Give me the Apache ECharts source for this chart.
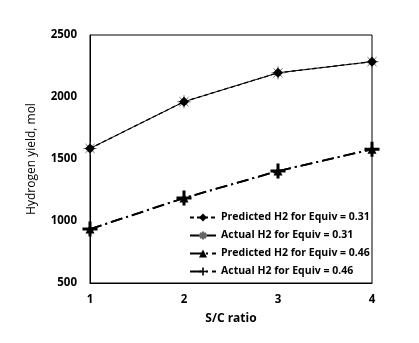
<!DOCTYPE html>
<html>
<head>
<meta charset="utf-8">
<script src="https://cdn.jsdelivr.net/npm/echarts@6/dist/echarts.min.js"></script>
<style>
html, body { margin: 0; padding: 0; background: #fff; }
#chart1 { width: 419px; height: 343px; }
</style>
</head>
<body>
<div id="chart1"></div>
<script>
// S/C ratio
var scRatio = [1, 2, 3, 4];
// hydrogen yield, mol
var predH2_031 = [1585, 1962, 2195, 2285];
var actH2_031 = [1585, 1962, 2195, 2285];
var predH2_046 = [935, 1185, 1403, 1578];
var actH2_046 = [935, 1185, 1403, 1578];
var seriesNames = [
	'Predicted H2 for Equiv = 0.31',
	'Actual H2 for Equiv = 0.31',
	'Predicted H2 for Equiv = 0.46',
	'Actual H2 for Equiv = 0.46'
];

function pairs(ys) {
	return scRatio.map(function (x, i) { return [x, ys[i]]; });
}

var asterisk = 'path://M0,-10L0,10M-10,0L10,0M-7,-7L7,7M-7,7L7,-7';
var plusMark = 'path://M-2,-10H2V-2H10V2H2V10H-2V2H-10V-2H-2Z';
var font = 'Open Sans';

var myChart = echarts.init(document.getElementById('chart1'));

var option = {
	animation : false,
	textStyle : { fontFamily : font },
	grid : {
		left : 90,
		right : 47,
		top : 35,
		bottom : 60
	},
	legend : {
		orient : 'vertical',
		left : 184,
		top : 207,
		itemWidth : 26,
		itemHeight : 10,
		itemGap : 7,
		textStyle : {
			fontFamily : font,
			fontSize : 10.5,
			fontWeight : 'bold',
			color : '#000'
		},
		data : seriesNames
	},
	xAxis : {
		type : 'value',
		min : 1,
		max : 4,
		interval : 1,
		name : 'S/C ratio',
		nameLocation : 'middle',
		nameGap : 30,
		nameTextStyle : { fontFamily : font, fontSize : 12, fontWeight : 'bold', color : '#000' },
		axisLine : { show : true, lineStyle : { color : '#000', width : 1 } },
		axisTick : { show : false },
		splitLine : { show : false },
		axisLabel : { fontFamily : font, fontSize : 11.5, fontWeight : 'bold', color : '#000', margin : 11 }
	},
	yAxis : [{
		type : 'value',
		min : 500,
		max : 2500,
		interval : 500,
		name : 'Hydrogen yield, mol',
		nameLocation : 'middle',
		nameGap : 52,
		nameTextStyle : { fontFamily : font, fontSize : 12, color : '#000' },
		axisLine : { show : true, lineStyle : { color : '#000', width : 1 } },
		axisTick : { show : false },
		splitLine : { show : false },
		axisLabel : {
			fontFamily : font, fontSize : 11.5, fontWeight : 'bold', color : '#000', margin : 13,
			formatter : function (v) { return String(v); }
		}
	}],
	series : [
		{
			name : seriesNames[0],
			type : 'line',
			data : pairs(predH2_031),
			symbol : 'diamond',
			symbolSize : 10,
			itemStyle : { color : '#000' },
			lineStyle : { color : '#000', width : 1.3, type : [4, 3] },
			z : 3
		},
		{
			name : seriesNames[1],
			type : 'line',
			data : pairs(actH2_031),
			symbol : asterisk,
			symbolSize : 13,
			itemStyle : { color : '#000', borderColor : '#666', borderWidth : 1 },
			lineStyle : { color : '#000', width : 1 },
			z : 2
		},
		{
			name : seriesNames[2],
			type : 'line',
			data : pairs(predH2_046),
			symbol : 'triangle',
			symbolSize : 9,
			itemStyle : { color : '#000' },
			lineStyle : { color : '#000', width : 1.8, type : [12, 4, 2, 4] },
			z : 2
		},
		{
			name : seriesNames[3],
			type : 'line',
			data : pairs(actH2_046),
			symbol : plusMark,
			symbolSize : 15,
			itemStyle : { color : '#000' },
			lineStyle : { color : '#000', width : 1.8, type : [12, 4, 2, 4] },
			z : 3
		}
	]
};

myChart.setOption(option);

// frame round the plot, from the grid's own pixel box
var p0 = myChart.convertToPixel({ gridIndex : 0 }, [1, 2500]);
var p1 = myChart.convertToPixel({ gridIndex : 0 }, [4, 500]);
myChart.setOption({
	graphic : [{
		type : 'rect',
		shape : { x : p0[0], y : p0[1], width : p1[0] - p0[0], height : p1[1] - p0[1] },
		style : { fill : 'none', stroke : '#000', lineWidth : 1 },
		silent : true,
		z : 1
	}]
});
</script>
</body>
</html>
